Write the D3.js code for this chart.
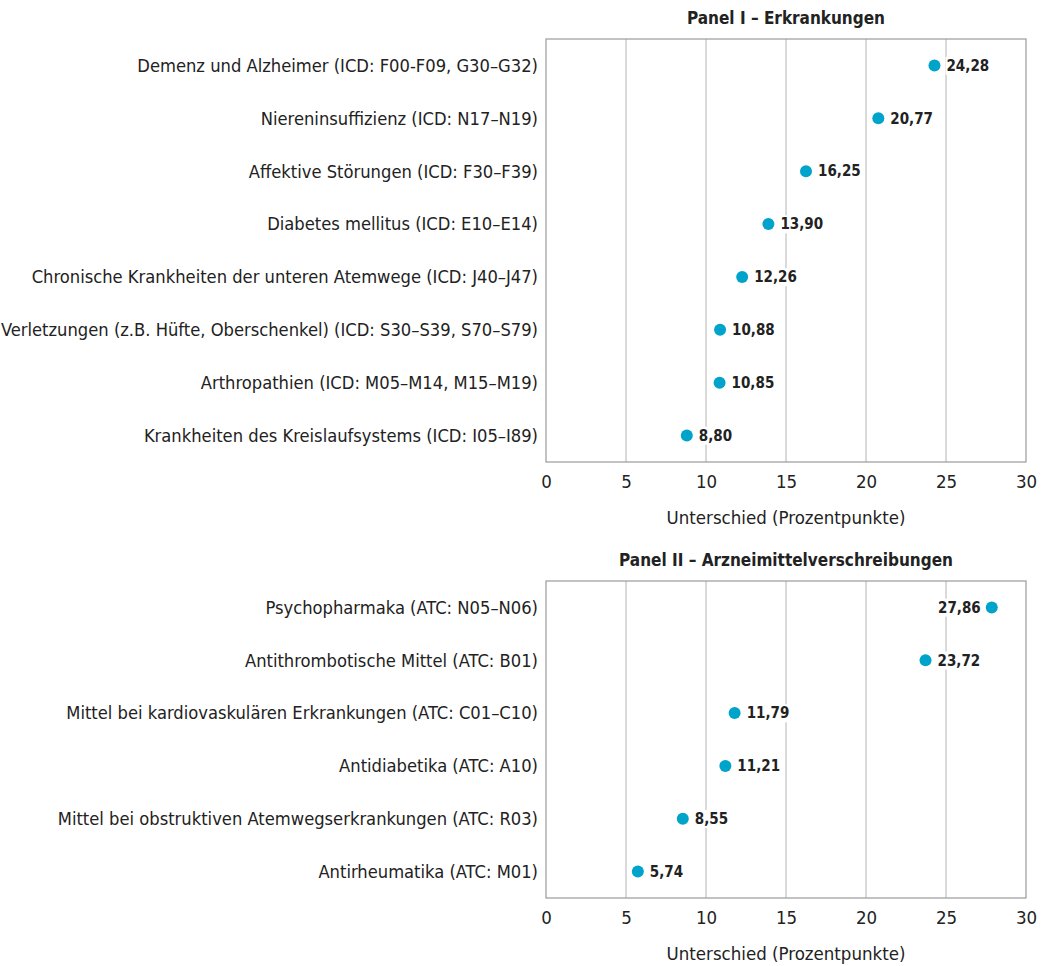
<!DOCTYPE html>
<html><head><meta charset="utf-8">
<script src="https://cdn.jsdelivr.net/npm/d3@7"></script>
<style>
body{margin:0;background:#fff;}
text{font-family:"DejaVu Sans Condensed","Liberation Sans Narrow",sans-serif;fill:#222;}
</style></head>
<body><svg id="c" width="1047" height="966"></svg>
<script>
const panel1Title = "Panel I – Erkrankungen";
const panel1Categories = [
  "Demenz und Alzheimer (ICD: F00-F09, G30–G32)",
  "Niereninsuffizienz (ICD: N17–N19)",
  "Affektive Störungen (ICD: F30–F39)",
  "Diabetes mellitus (ICD: E10–E14)",
  "Chronische Krankheiten der unteren Atemwege (ICD: J40–J47)",
  "Verletzungen (z.B. Hüfte, Oberschenkel) (ICD: S30–S39, S70–S79)",
  "Arthropathien (ICD: M05–M14, M15–M19)",
  "Krankheiten des Kreislaufsystems (ICD: I05–I89)"
];
const panel1Values = [24.28, 20.77, 16.25, 13.90, 12.26, 10.88, 10.85, 8.80];

const panel2Title = "Panel II – Arzneimittelverschreibungen";
const panel2Categories = [
  "Psychopharmaka (ATC: N05–N06)",
  "Antithrombotische Mittel (ATC: B01)",
  "Mittel bei kardiovaskulären Erkrankungen (ATC: C01–C10)",
  "Antidiabetika (ATC: A10)",
  "Mittel bei obstruktiven Atemwegserkrankungen (ATC: R03)",
  "Antirheumatika (ATC: M01)"
];
const panel2Values = [27.86, 23.72, 11.79, 11.21, 8.55, 5.74];

const xTicks = [0, 5, 10, 15, 20, 25, 30];
const xDomain = [0, 30];
const axisTitle = "Unterschied (Prozentpunkte)";

const svg = d3.select("#c");
const fmt = v => d3.format(".2f")(v).replace(".", ",");
const FONT = "DejaVu Sans Condensed, Liberation Sans Narrow, sans-serif";

function drawPanel(cfg) {
  const {title, cats, vals, top, bottom} = cfg;
  const left = 546, right = 1026;
  const g = svg.append("g");
  const x = d3.scaleLinear().domain(xDomain).range([left, right]);
  const y = d3.scaleBand().domain(cats).range([top, bottom]).padding(0);

  g.append("text").attr("x", (left + right) / 2).attr("y", top - 15)
    .attr("text-anchor", "middle").attr("font-size", 17).attr("font-weight", "bold").text(title);

  g.selectAll("line.grid").data(xTicks.filter(t => t > xDomain[0] && t < xDomain[1])).join("line")
    .attr("x1", d => x(d)).attr("x2", d => x(d)).attr("y1", top).attr("y2", bottom)
    .attr("stroke", "#b4b4b4").attr("stroke-width", 1);

  g.append("rect").attr("x", left).attr("y", top).attr("width", right - left).attr("height", bottom - top)
    .attr("fill", "none").attr("stroke", "#9a9a9a").attr("stroke-width", 1.2);

  const ax = g.append("g").attr("transform", `translate(0,${bottom})`)
    .call(d3.axisBottom(x).tickValues(xTicks).tickSize(0).tickPadding(13));
  ax.select(".domain").remove();
  ax.selectAll("text").attr("font-size", 18.5).attr("font-family", FONT).attr("fill", "#222");

  g.append("text").attr("x", (left + right) / 2).attr("y", bottom + 62)
    .attr("text-anchor", "middle").attr("font-size", 18.5).text(axisTitle);

  g.selectAll("text.cat").data(cats).join("text").attr("class", "cat")
    .attr("x", left - 8).attr("y", d => y(d) + y.bandwidth() / 2).attr("dy", "0.35em")
    .attr("text-anchor", "end").attr("font-size", 18.2).text(d => d);

  cats.forEach((c, i) => {
    const v = vals[i];
    const cx = x(v), cy = y(c) + y.bandwidth() / 2;
    const leftSide = v > 26;
    const lbl = g.append("g");
    const t = lbl.append("text").attr("x", leftSide ? cx - 11 : cx + 12).attr("y", cy).attr("dy", "0.35em")
      .attr("text-anchor", leftSide ? "end" : "start").attr("font-size", 15).attr("font-weight", "bold").text(fmt(v));
    const bb = t.node().getBBox();
    lbl.insert("rect", "text").attr("x", bb.x - 1).attr("y", bb.y).attr("width", bb.width + 2).attr("height", bb.height).attr("fill", "#fff");
    g.append("circle").attr("cx", cx).attr("cy", cy).attr("r", 6).attr("fill", "#00a3c9");
  });
}

drawPanel({title: panel1Title, cats: panel1Categories, vals: panel1Values, top: 39, bottom: 462});
drawPanel({title: panel2Title, cats: panel2Categories, vals: panel2Values, top: 581, bottom: 898});
</script></body></html>
